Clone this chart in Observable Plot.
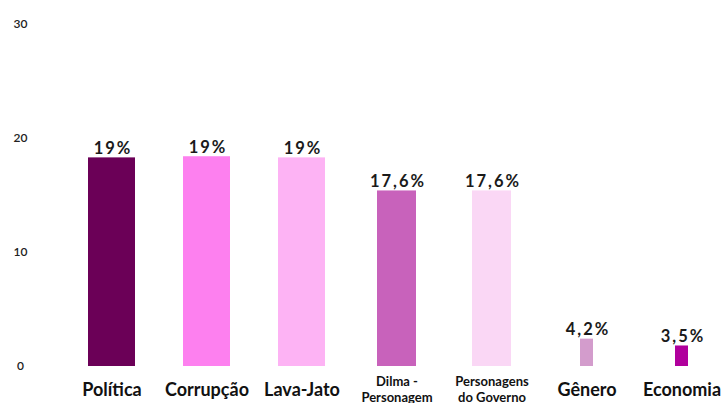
<!DOCTYPE html>
<html>
<head>
<meta charset="utf-8">
<script src="https://cdn.jsdelivr.net/npm/d3@7"></script>
<script src="https://cdn.jsdelivr.net/npm/@observablehq/plot@0.6"></script>
<style>
  html, body { margin: 0; padding: 0; background: #fff; }
  #chart svg { font-family: Lato, sans-serif; display: block; }
</style>
</head>
<body>
<div id="chart"></div>
<script>
const categories = ["Política", "Corrupção", "Lava-Jato", "Dilma -\nPersonagem", "Personagens\ndo Governo", "Gênero", "Economia"];
const barValues = [18.3, 18.4, 18.3, 15.4, 15.4, 2.4, 1.8];
const valueLabels = ["19%", "19%", "19%", "17,6%", "17,6%", "4,2%", "3,5%"];
const palette = ["#6b0057", "#fd80ef", "#fdb3f4", "#c862bb", "#fad7f5", "#d39ccc", "#b0009c"];
const yTicks = [0, 10, 20, 30];

const rows = categories.map((c, i) => ({category: c, value: barValues[i], label: valueLabels[i], idx: i}));
const wide = rows.filter(d => d.idx < 3);
const mid = rows.filter(d => d.idx >= 3 && d.idx < 5);
const narrow = rows.filter(d => d.idx >= 5);
const single = rows.filter(d => !d.category.includes("\n"));
const double = rows.filter(d => d.category.includes("\n"));

const barOpts = {x: "category", y: "value", fill: "category"};

const chart = Plot.plot({
  width: 723,
  height: 403,
  marginLeft: 20,
  marginRight: 0,
  marginTop: 24,
  marginBottom: 37,
  x: {domain: categories, range: [61, 731], padding: 0, axis: null},
  y: {domain: [0, 30], range: [366, 24]},
  color: {domain: categories, range: palette},
  style: {fontFamily: "Lato, sans-serif", background: "#fff", overflow: "visible"},
  marks: [
    Plot.axisY({ticks: yTicks, tickSize: 0, tickPadding: 0, textAnchor: "middle", fontSize: 12, fontWeight: 600, fill: "#222", label: null}),
    Plot.barY(wide, {...barOpts, insetLeft: 24, insetRight: 24}),
    Plot.barY(mid, {...barOpts, insetLeft: 28, insetRight: 28}),
    Plot.barY(narrow, {...barOpts, insetLeft: 41, insetRight: 41}),
    Plot.text(rows, {x: "category", y: "value", text: "label", lineAnchor: "bottom", dy: -4, dx: 1, fontSize: 16.5, fontWeight: 700, fill: "#1a1a1a"}),
    Plot.text(single, {x: "category", y: 0, text: "category", lineAnchor: "middle", dy: 24, fontSize: 18, fontWeight: 700, fill: "#111"}),
    Plot.text(double, {x: "category", y: 0, text: "category", lineAnchor: "top", dy: 8, fontSize: 13, fontWeight: 700, lineHeight: 1.25, fill: "#111"})
  ]
});
d3.select(chart).selectAll("text").each(function() {
  if (/%$/.test(this.textContent)) this.style.letterSpacing = "2px";
});
document.getElementById("chart").appendChild(chart);
</script>
</body>
</html>
